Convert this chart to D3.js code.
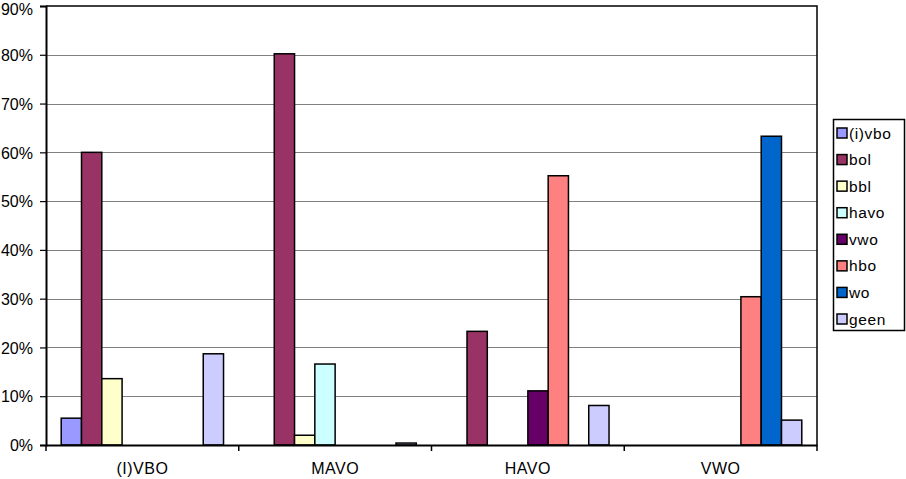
<!DOCTYPE html>
<html>
<head>
<meta charset="utf-8">
<script src="https://cdn.jsdelivr.net/npm/d3@7"></script>
<style>
  html, body { margin: 0; padding: 0; background: #fff; }
  svg { display: block; font-family: "Liberation Sans", Arial, Helvetica, sans-serif; }
</style>
</head>
<body>
<svg id="chart" width="906" height="479"></svg>
<script>
const categories = ["(I)VBO", "MAVO", "HAVO", "VWO"];
const seriesNames = ["(i)vbo", "bol", "bbl", "havo", "vwo", "hbo", "wo", "geen"];
const seriesColors = ["#9999ff", "#993366", "#ffffcc", "#ccffff", "#660066", "#ff8080", "#0066cc", "#ccccff"];
// values in percent, per series, per category
const ivbo = [5.5, 0, 0, 0];
const bol  = [60.0, 80.2, 23.3, 0];
const bbl  = [13.6, 2.0, 0, 0];
const havo = [0, 16.6, 0, 0];
const vwo  = [0, 0, 11.1, 0];
const hbo  = [0, 0, 55.2, 30.4];
const wo   = [0, 0, 0, 63.3];
const geen = [18.7, 0.4, 8.1, 5.1];
const seriesValues = [ivbo, bol, bbl, havo, vwo, hbo, wo, geen];
const yTicks = [0, 10, 20, 30, 40, 50, 60, 70, 80, 90];

(function () {
const svg = d3.select("#chart");
const pLeft = 46, pRight = 817, pTop = 6, pBottom = 445;

const x0 = d3.scaleBand().domain(categories).range([pLeft, pRight]).padding(0);
const x1 = d3.scaleBand().domain(seriesNames).range([0, x0.bandwidth()]).paddingInner(0).paddingOuter(0.75);
const y = d3.scaleLinear().domain([0, 90]).range([pBottom, pTop]);

// gridlines
svg.append("g").selectAll("line").data(yTicks.filter(t => t > 0 && t < 90)).join("line")
  .attr("x1", pLeft).attr("x2", pRight)
  .attr("y1", d => Math.round(y(d)) + 0.5).attr("y2", d => Math.round(y(d)) + 0.5)
  .attr("stroke", "#808080").attr("stroke-width", 1);

// plot frame (top & right)
svg.append("path")
  .attr("d", `M${pLeft},${pTop}H${pRight}V${pBottom}`)
  .attr("fill", "none").attr("stroke", "#000").attr("stroke-width", 1.5);

// bars
const data = [];
categories.forEach((c, ci) => {
  seriesNames.forEach((s, si) => {
    data.push({ cat: c, ser: s, si: si, v: seriesValues[si][ci] });
  });
});
svg.append("g").selectAll("rect").data(data.filter(d => d.v > 0)).join("rect")
  .attr("x", d => x0(d.cat) + x1(d.ser))
  .attr("y", d => y(d.v))
  .attr("width", x1.bandwidth())
  .attr("height", d => pBottom - y(d.v))
  .attr("fill", d => seriesColors[d.si])
  .attr("stroke", "#000").attr("stroke-width", 1.5);

// y axis
const yAxis = svg.append("g").attr("transform", `translate(${pLeft},0)`)
  .call(d3.axisLeft(y).tickValues(yTicks).tickFormat(d => d + "%").tickSize(6).tickPadding(6));
yAxis.select(".domain").attr("stroke", "#000").attr("stroke-width", 2);
yAxis.selectAll(".tick line").attr("stroke", "#000").attr("stroke-width", 1.2);
yAxis.selectAll(".tick text").attr("font-size", 16).attr("fill", "#000")
  .attr("font-family", "Liberation Sans, Arial, sans-serif").attr("x", -13)
  .attr("dy", d => d === 90 ? "0.5em" : "0.36em");

// x axis
const xAxis = svg.append("g").attr("transform", `translate(0,${pBottom})`)
  .call(d3.axisBottom(x0).tickSize(0).tickPadding(18));
xAxis.select(".domain").attr("stroke", "#000").attr("stroke-width", 2);
xAxis.selectAll(".tick text").attr("font-size", 16).attr("fill", "#000")
  .attr("letter-spacing", 0.5)
  .attr("font-family", "Liberation Sans, Arial, sans-serif");
// category boundary tick marks
const bounds = categories.map(c => x0(c)).concat([pRight]);
svg.append("g").selectAll("line").data(bounds).join("line")
  .attr("x1", d => d).attr("x2", d => d)
  .attr("y1", pBottom).attr("y2", pBottom + 6)
  .attr("stroke", "#000").attr("stroke-width", 1.5);

// legend
const lg = svg.append("g");
lg.append("rect").attr("x", 833.5).attr("y", 119.5).attr("width", 71).attr("height", 211)
  .attr("fill", "#fff").attr("stroke", "#000").attr("stroke-width", 1.5);
const ly = d3.scalePoint().domain(seriesNames).range([133, 319]);
const items = lg.selectAll("g.item").data(seriesNames).join("g").attr("class", "item")
  .attr("transform", d => `translate(0,${ly(d)})`);
items.append("rect").attr("x", 837).attr("y", -5).attr("width", 10).attr("height", 10)
  .attr("fill", (d, i) => seriesColors[i]).attr("stroke", "#000").attr("stroke-width", 1.5);
items.append("text").attr("x", 849).attr("y", 5.5).attr("font-size", 15.5).attr("fill", "#000")
  .attr("letter-spacing", 0.6)
  .text(d => d);
})();
</script>
</body>
</html>
